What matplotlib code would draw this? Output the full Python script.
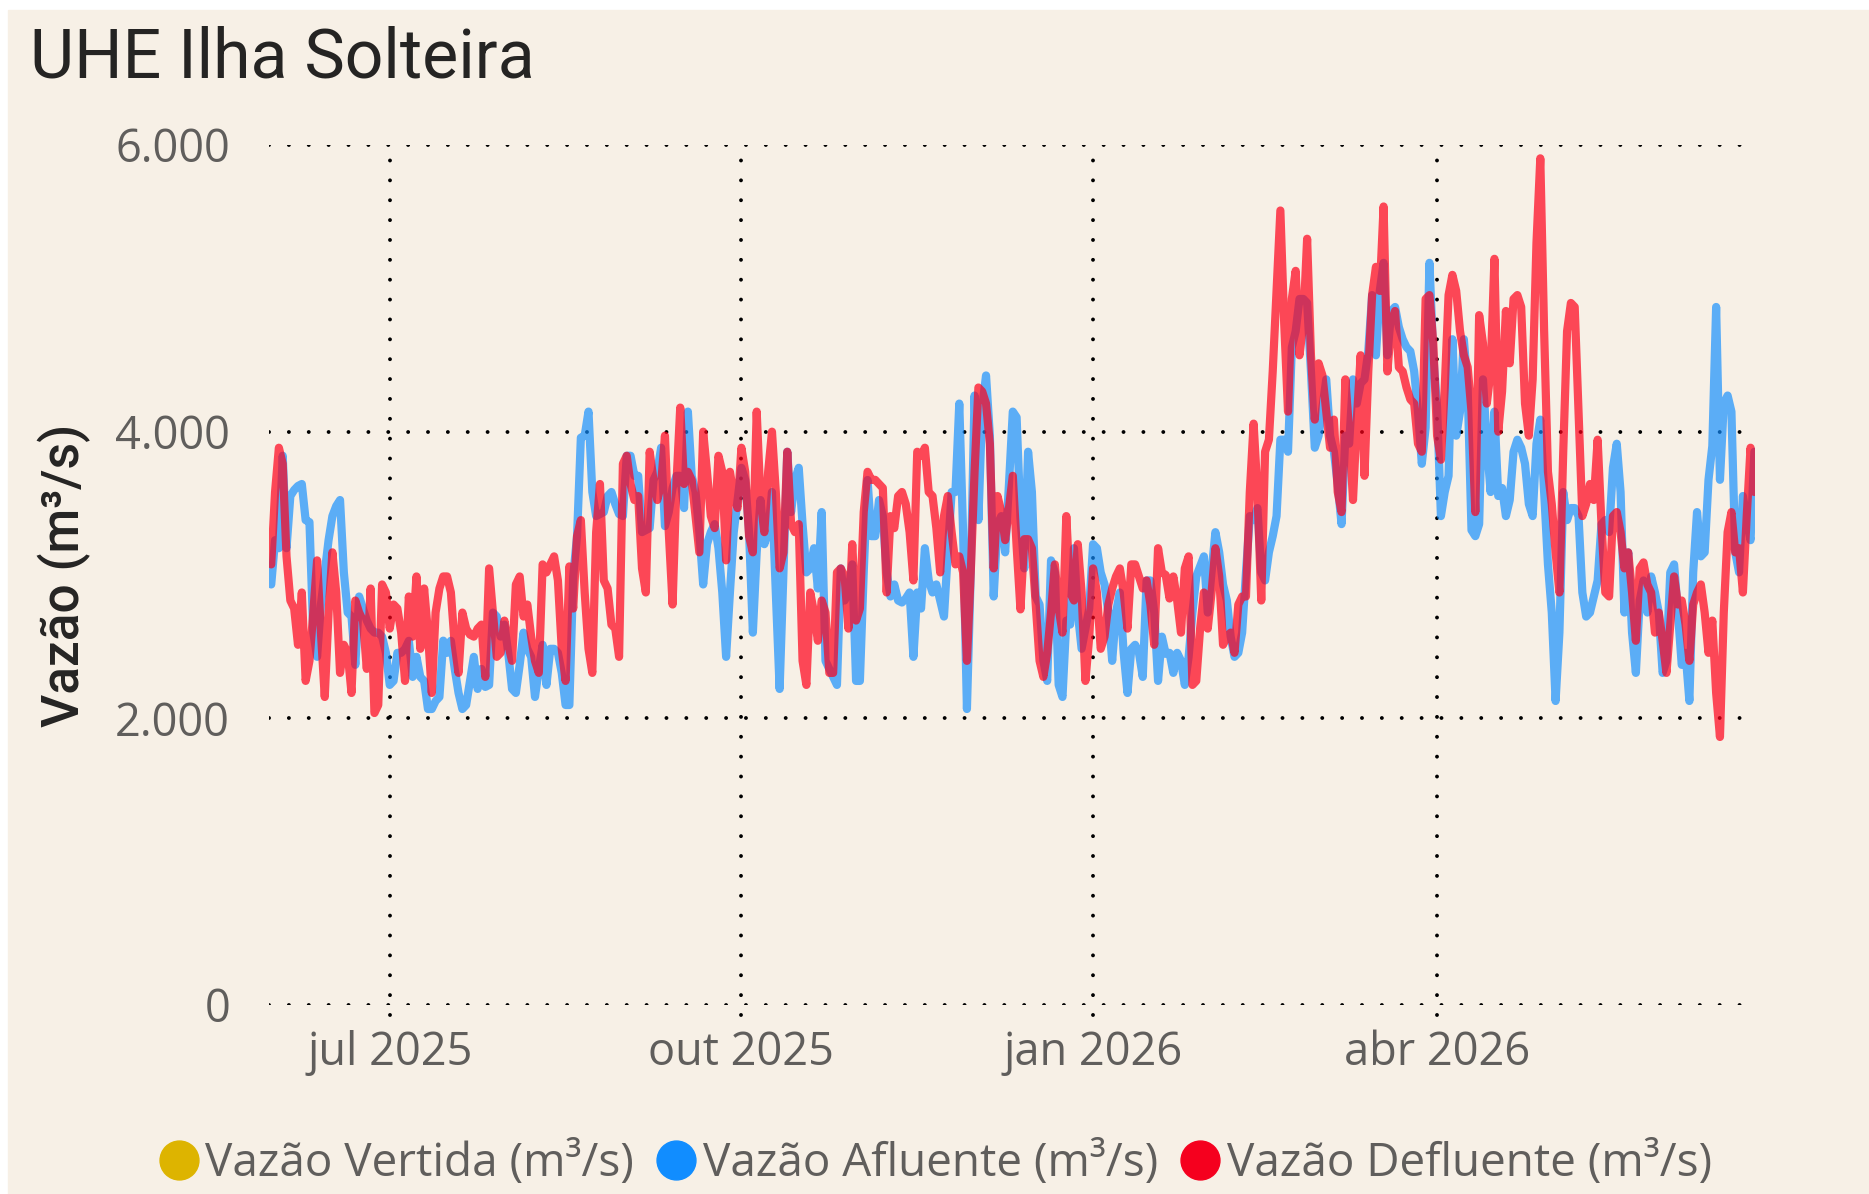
import numpy as np
import pandas as pd
import matplotlib
matplotlib.use("Agg")
import matplotlib.pyplot as plt
from matplotlib.lines import Line2D
from matplotlib.patches import Rectangle
from matplotlib.ticker import FuncFormatter

# daily series, starting 31 may 2025 (values in m3/s)
start_date = "2025-05-31"

afluente = [
    2934, 3243, 3187, 3832, 3187, 3551, 3593, 3621, 3635, 3383,
    3369, 2598, 2429, 2794, 3018, 3243, 3411, 3481, 3523, 3018,
    2738, 2710, 2373, 2850, 2766, 2682, 2626, 2598, 2598, 2570,
    2457, 2233, 2261, 2457, 2457, 2485, 2541, 2289, 2429, 2289,
    2261, 2065, 2065, 2121, 2149, 2542, 2457, 2541, 2345, 2177,
    2065, 2093, 2261, 2429, 2205, 2345, 2219, 2233, 2738, 2710,
    2570, 2654, 2457, 2205, 2177, 2373, 2598, 2485, 2429, 2149,
    2345, 2513, 2233, 2485, 2485, 2457, 2317, 2093, 2093, 2990,
    3270, 3958, 3972, 4140, 3580, 3411, 3425, 3439, 3551, 3579,
    3495, 3425, 3411, 3832, 3832, 3692, 3692, 3299, 3313, 3327,
    3663, 3720, 3888, 3341, 3439, 3607, 3692, 3692, 3467, 4140,
    3692, 3579, 3299, 2934, 3215, 3299, 3355, 3187, 2878, 2429,
    2878, 3299, 3523, 3748, 3663, 3299, 2598, 3158, 3523, 3215,
    3299, 3579, 2878, 2205, 3018, 3860, 3439, 3663, 3748, 3355,
    3018, 3046, 3187, 2906, 3439, 2401, 2345, 2289, 2233, 3046,
    2822, 2878, 3074, 2261, 2261, 3018, 3663, 3271, 3271, 3523,
    3411, 3018, 2850, 2934, 2822, 2808, 2836, 2878, 2429, 2878,
    2766, 3187, 2962, 2878, 2934, 2822, 2710, 3158, 3579, 3579,
    4196, 3299, 2065, 3018, 4252, 3383, 4168, 4392, 3972, 2850,
    3355, 3411, 3158, 3635, 4140, 4100, 3400, 3046, 3860, 3579,
    2850, 2794, 2401, 2261, 3102, 3018, 2233, 2149, 2682, 2654,
    3187, 2738, 2485, 2626, 2766, 3215, 3187, 3018, 2934, 2738,
    2401, 2738, 2878, 2457, 2177, 2485, 2513, 2457, 2289, 2962,
    2962, 2738, 2261, 2570, 2450, 2457, 2317, 2457, 2401, 2233,
    2429, 2738, 2990, 3060, 3130, 2738, 3018, 3299, 3158, 2934,
    2822, 2570, 2429, 2457, 2598, 3018, 3411, 3383, 3467, 3018,
    2962, 3158, 3271, 3411, 3944, 3944, 3860, 4589, 4701, 4926,
    4926, 4898, 4421, 3888, 3972, 4168, 4365, 3972, 3860, 3635,
    3355, 3972, 3916, 4365, 4196, 4337, 4365, 4561, 4953, 4533,
    4982, 5178, 4533, 4842, 4870, 4729, 4645, 4589, 4561, 4421,
    4140, 3776, 4028, 5178, 4533, 4168, 3411, 3579, 3692, 4645,
    3972, 4140, 4645, 4300, 3313, 3271, 3355, 4365, 3916, 3579,
    4140, 3551, 3607, 3411, 3523, 3860, 3944, 3888, 3776, 3495,
    3411, 3916, 4084, 3579, 3074, 2738, 2121, 2598, 3579, 3383,
    3467, 3467, 3411, 2878, 2710, 2738, 2850, 2962, 3355, 3383,
    3299, 3748, 3916, 3579, 2738, 3158, 2598, 2317, 2822, 2962,
    2738, 2990, 2878, 2738, 2317, 2401, 3018, 3074, 2738, 2373,
    2457, 2121, 3018, 3439, 3130, 3158, 3664, 3900, 4870, 3664,
    4196, 4252, 4140, 3158, 3018, 3551, 3383, 3243, 3860,
]

defluente = [
    3074, 3579, 3888, 3776, 3130, 2822, 2766, 2513, 2878, 2261,
    2401, 2738, 3102, 2598, 2149, 2738, 3158, 2878, 2317, 2513,
    2457, 2177, 2822, 2738, 2682, 2345, 2906, 2037, 2093, 2934,
    2878, 2626, 2794, 2766, 2598, 2261, 2850, 2570, 2990, 2485,
    2906, 2598, 2177, 2738, 2906, 2990, 2990, 2878, 2513, 2317,
    2738, 2626, 2584, 2570, 2626, 2654, 2289, 3046, 2738, 2429,
    2457, 2682, 2513, 2401, 2934, 2990, 2710, 2794, 2570, 2401,
    2317, 3074, 3018, 3074, 3130, 2962, 2485, 2261, 3060, 2766,
    3271, 3383, 2878, 2485, 2317, 3299, 3635, 2962, 2906, 2654,
    2626, 2429, 3776, 3832, 3635, 3523, 3551, 3046, 2878, 3860,
    3663, 3523, 3635, 3972, 3299, 2794, 3635, 4168, 3635, 3720,
    3663, 3411, 3158, 4000, 3720, 3411, 3327, 3832, 3720, 3102,
    3720, 3551, 3467, 3888, 3720, 3271, 3158, 4140, 3523, 3299,
    3720, 4000, 3579, 3046, 3158, 3860, 3355, 3299, 3355, 2401,
    2233, 2878, 2738, 2541, 2822, 2738, 2317, 2317, 3018, 3046,
    2990, 2626, 3215, 2682, 2766, 3439, 3720, 3664, 3664, 3635,
    3607, 2878, 3411, 3327, 3551, 3579, 3495, 3299, 2962, 3860,
    3832, 3888, 3579, 3551, 3327, 3018, 3411, 3551, 3299, 3074,
    3130, 3018, 2401, 3018, 3720, 4308, 4280, 4196, 3916, 3046,
    3551, 3439, 3243, 3467, 3692, 3200, 2760, 3250, 3250, 3187,
    2794, 2401, 2289, 2457, 2738, 3074, 2766, 2598, 3411, 2878,
    2822, 3215, 2878, 2261, 2570, 3046, 2878, 2485, 2570, 2794,
    2906, 2990, 3046, 2878, 2626, 3074, 3074, 2990, 2906, 2962,
    2794, 2513, 3187, 3018, 3000, 2836, 2990, 2822, 2598, 3046,
    3130, 2233, 2261, 2626, 2878, 2626, 2878, 3187, 2990, 2513,
    2570, 2598, 2457, 2794, 2850, 2850, 3579, 4056, 3579, 2822,
    3860, 3944, 4421, 4982, 5543, 4757, 4140, 4926, 5122, 4533,
    4757, 5346, 4533, 4084, 4477, 4393, 4140, 3888, 4084, 3579,
    3439, 4365, 4000, 3523, 4084, 4533, 3692, 4421, 4953, 5150,
    4982, 5571, 4420, 4757, 4842, 4449, 4420, 4308, 4225, 4196,
    3916, 3860, 4926, 4953, 4617, 3972, 3804, 4308, 4953, 5094,
    4982, 4701, 4533, 4450, 4140, 3439, 4813, 4617, 4196, 4421,
    5206, 4000, 4280, 4842, 4477, 4926, 4953, 4870, 4196, 3972,
    4365, 5318, 5907, 4701, 3720, 3495, 3158, 2878, 3860, 4701,
    4898, 4870, 4140, 3411, 3495, 3635, 3523, 3944, 3355, 2878,
    2850, 3411, 3439, 3299, 3046, 3158, 2878, 2541, 3046, 3088,
    2934, 2878, 2598, 2738, 2541, 2317, 2654, 2990, 2794, 2822,
    2654, 2401, 2794, 2878, 2934, 2738, 2457, 2682, 2177, 1870,
    2738, 3299, 3439, 3158, 3187, 2878, 3411, 3888, 3579,
]

# vertida has no data in the period, it only shows in the legend
vertida = []

tick_dates = ["2025-07-01", "2025-10-01", "2026-01-01", "2026-04-01"]
tick_labels = ["jul 2025", "out 2025", "jan 2026", "abr 2026"]
y_ticks = [0, 2000, 4000, 6000]

legend_names = ["Vazão Vertida (m³/s)", "Vazão Afluente (m³/s)", "Vazão Defluente (m³/s)"]
legend_colors = ["#DDB400", "#118DFF", "#F5001E"]

bg = "#F7F0E6"
dark = "#252423"
grey = "#605E5C"

dates_af = pd.date_range(start_date, periods=len(afluente), freq="D")
dates_de = pd.date_range(start_date, periods=len(defluente), freq="D")

W, H = 1869, 1194
fig = plt.figure(figsize=(W / 100, H / 100), dpi=100, facecolor="white")
# beige card, leaving a thin white border on top and left
fig.add_artist(Rectangle((8 / W, 0), 1, 1 - 10 / H, transform=fig.transFigure,
                         color=bg, zorder=-10))

ax = fig.add_axes([269 / W, 1 - 1005 / H, (1755 - 269) / W, (1005 - 145) / H])
ax.set_facecolor("none")

ax.plot(dates_af, afluente, color="#118DFF", alpha=0.68, lw=5.9,
        solid_joinstyle="round", solid_capstyle="round", zorder=3)
ax.plot(dates_de, defluente, color="#FF0019", alpha=0.7, lw=5.9,
        solid_joinstyle="round", solid_capstyle="round", zorder=4)

ax.set_ylim(0, 6000)
ax.set_xlim(dates_af[0] - pd.Timedelta(hours=14), dates_af[-1] + pd.Timedelta(hours=4))
ax.set_yticks(y_ticks)
ax.yaxis.set_major_formatter(FuncFormatter(lambda v, p: f"{int(v):,}".replace(",", ".")))
ax.set_xticks(pd.to_datetime(tick_dates))
ax.set_xticklabels(tick_labels)

ax.grid(True, color="black", linestyle=(0, (0.01, 5.1)), linewidth=2.8,
        dash_capstyle="round")
# vertical grid lines run a little below the zero line
for gl in ax.get_xgridlines():
    gl.set_clip_on(False)
    gl.set_ydata([-0.012, 1])

for s in ax.spines.values():
    s.set_visible(False)
ax.tick_params(axis="both", length=0, labelsize=32.5, labelcolor=grey)
ax.tick_params(axis="y", pad=28)
ax.tick_params(axis="x", pad=18)
for lab in ax.get_xticklabels() + ax.get_yticklabels():
    lab.set_family("Open Sans")

ax.set_ylabel("Vazão (m³/s)", fontsize=37, color=dark, family="Roboto",
              fontweight="medium")
ax.yaxis.set_label_coords(-0.12, 0.5)

fig.text(30 / W, 1 - 77.5 / H, "UHE Ilha Solteira", fontsize=49, color=dark,
         family="Roboto", va="baseline", ha="left")

handles = [Line2D([], [], marker="o", linestyle="none", markersize=28, color=c)
           for c in legend_colors]
leg = fig.legend(handles, legend_names, loc="center", bbox_to_anchor=(0.5, 1 - 1164 / H),
                 ncol=3, frameon=False, handlelength=0.95, handletextpad=0.1,
                 columnspacing=0.45, prop={"family": "Open Sans", "size": 33})
for t in leg.get_texts():
    t.set_color(grey)

fig.savefig("out.png", dpi=100, facecolor=fig.get_facecolor())
